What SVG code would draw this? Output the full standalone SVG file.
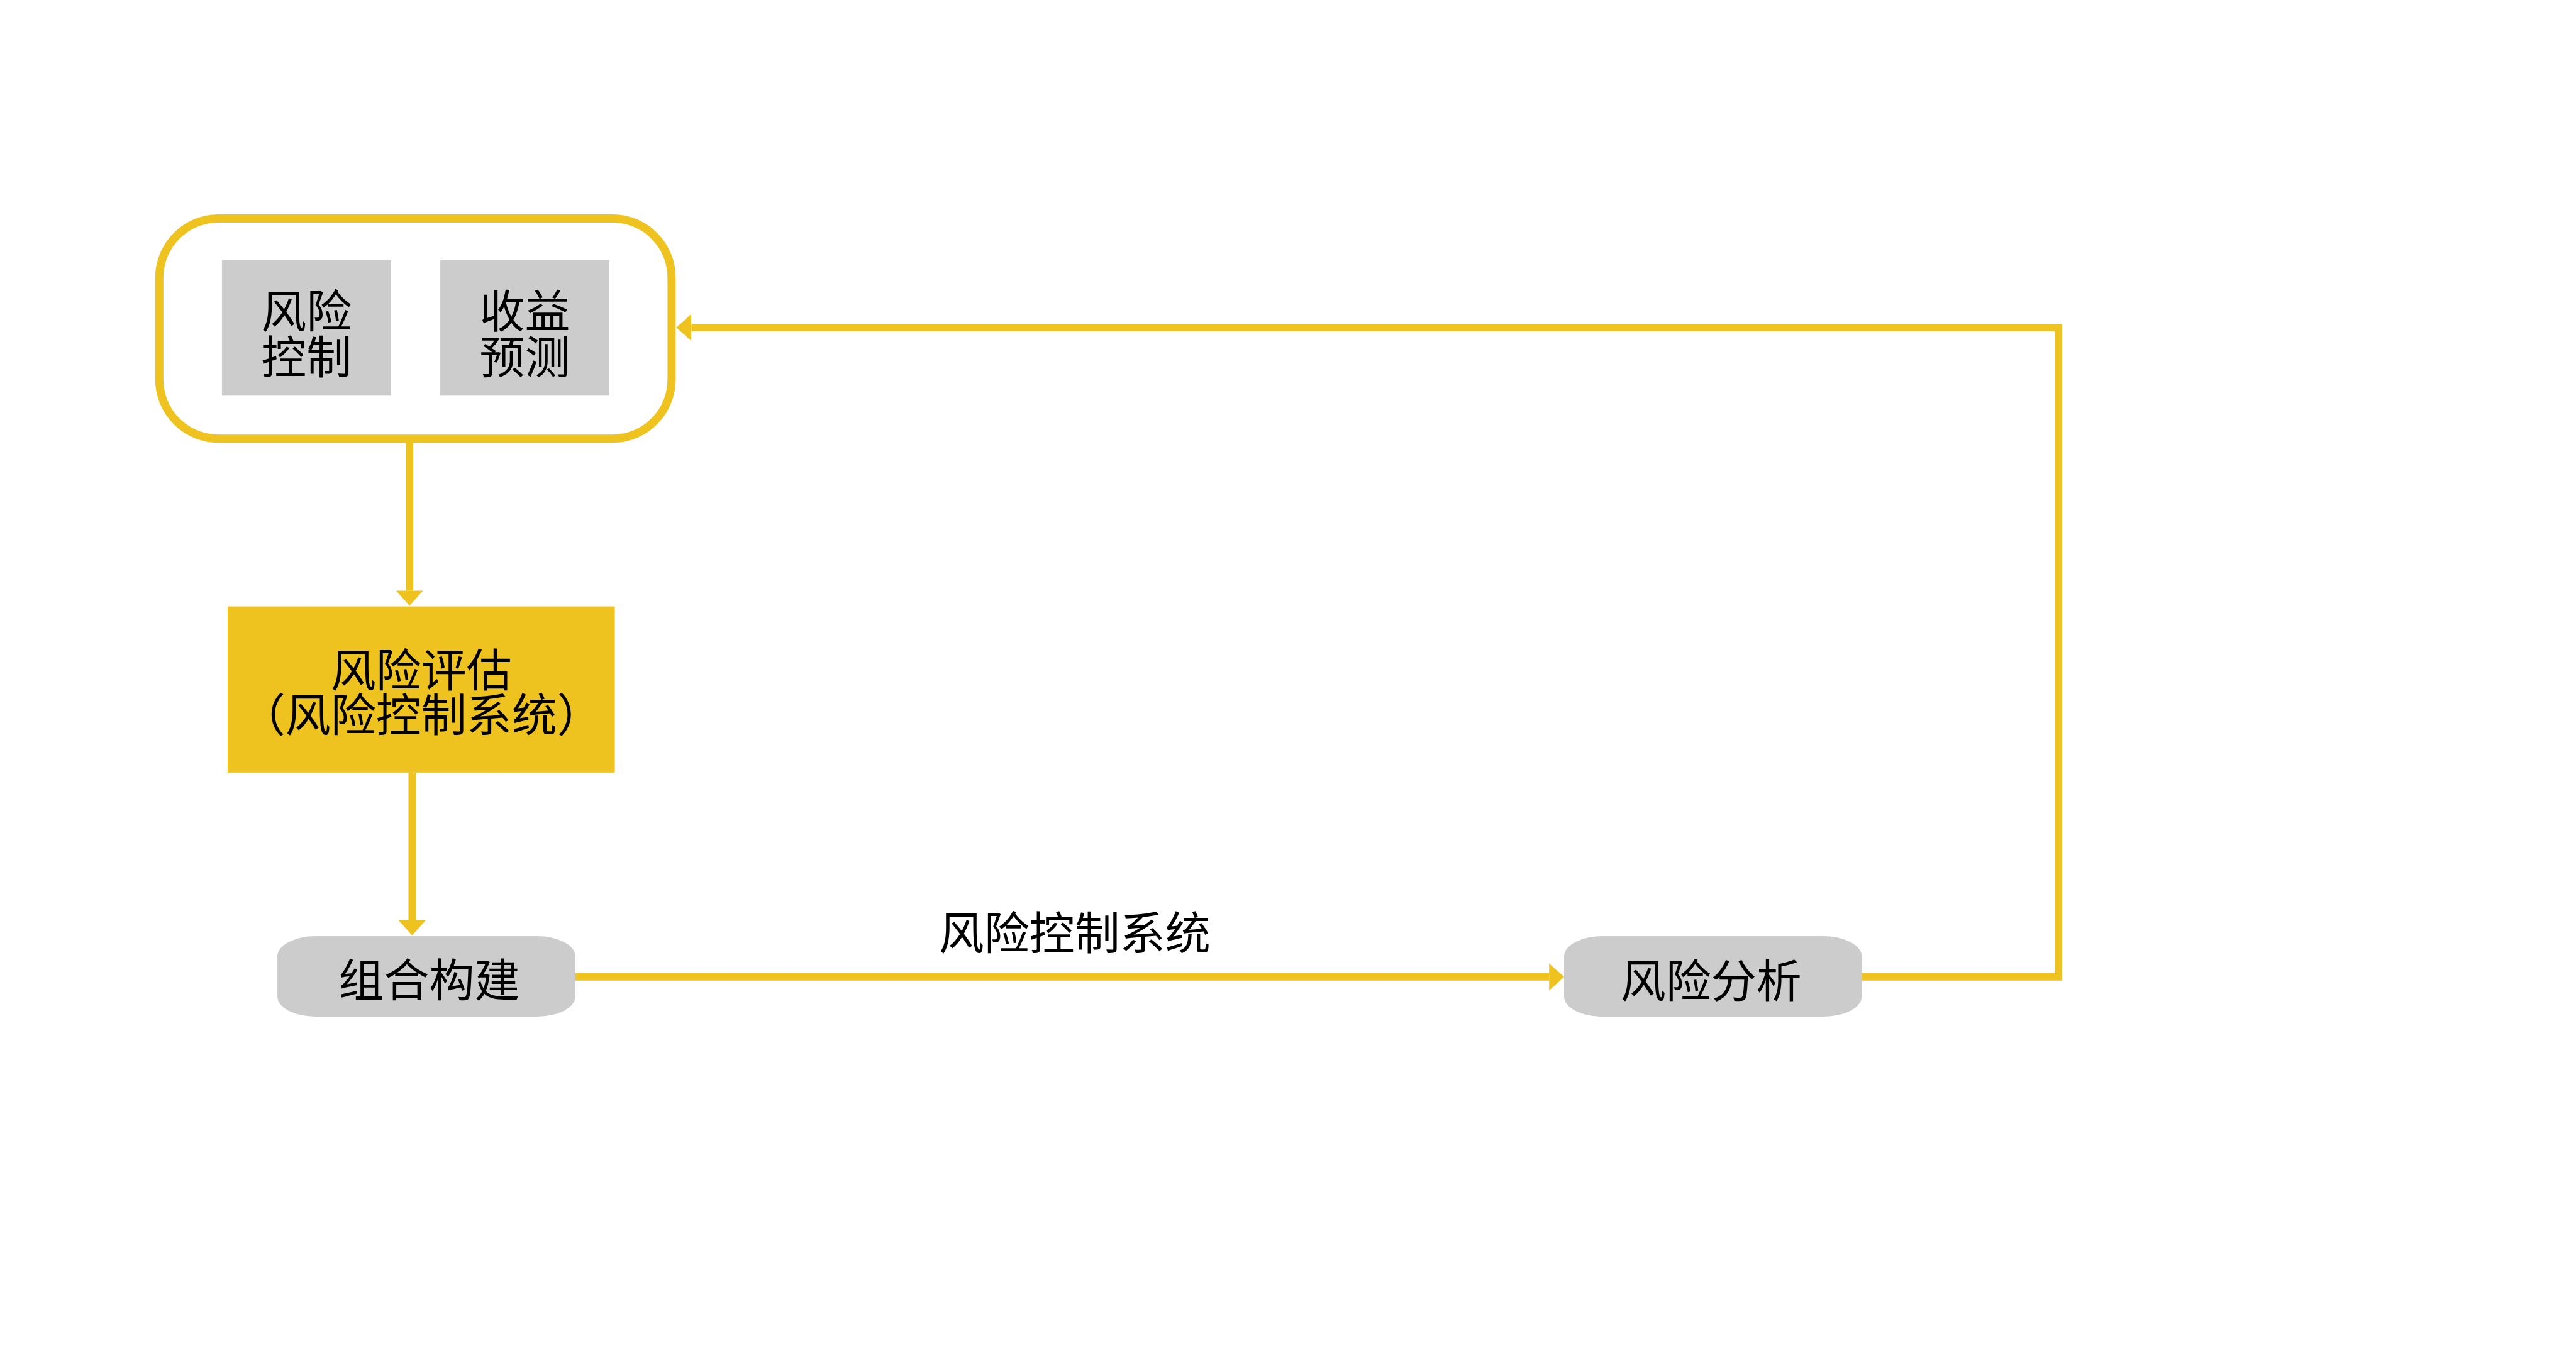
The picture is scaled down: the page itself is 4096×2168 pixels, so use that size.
<svg xmlns="http://www.w3.org/2000/svg" width="4096" height="2168" viewBox="0 0 4096 2168">
<style>
.t{font-family:"Noto Sans CJK SC","Noto Sans",sans-serif;font-size:72px;fill:#000;text-anchor:middle;dominant-baseline:central}
.g{fill:#CCCCCC}
.c{fill:none;stroke:#EEC21F;stroke-width:11.6;stroke-linejoin:miter}
</style>
<defs>
<marker id="ah" markerUnits="userSpaceOnUse" markerWidth="24" markerHeight="43" viewBox="0 0 24 43" refX="0" refY="21.5" orient="auto">
<path d="M0,0 L24,21.5 L0,43 Z" fill="#EEC21F"/>
</marker>
</defs>
<rect width="4096" height="2168" fill="#FFFFFF"/>
<g id="connectors">
<path class="c" d="M651.2,704 L651.2,939.4" marker-end="url(#ah)"/>
<path class="c" d="M655.3,1228.8 L655.3,1463.9" marker-end="url(#ah)"/>
<path class="c" d="M914.7,1553.9 L2463.2,1553.9" marker-end="url(#ah)"/>
<path class="c" d="M2960.2,1553.9 L3273,1553.9 L3273,520.9 L1099.4,520.9" marker-end="url(#ah)"/>
<text class="t" x="1708.8" y="1478.6">风险控制系统</text>
</g>
<g id="group-box">
<rect x="253.3" y="347.5" width="814.6" height="350.2" rx="94" ry="94" fill="#FFFFFF" stroke="#EEC21F" stroke-width="13"/>
</g>
<g id="risk-control">
<rect class="g" x="352.9" y="413.9" width="268.7" height="215.4"/>
<text class="t"><tspan x="487.2" y="488.8">风险</tspan><tspan x="487.2" y="561.8">控制</tspan></text>
</g>
<g id="return-forecast">
<rect class="g" x="700.1" y="413.9" width="268.7" height="215.4"/>
<text class="t"><tspan x="834.5" y="488.8">收益</tspan><tspan x="834.5" y="561.8">预测</tspan></text>
</g>
<g id="risk-assessment">
<rect x="362" y="964.6" width="615.6" height="264.2" fill="#EEC21F"/>
<text class="t"><tspan x="669.8" y="1060">风险评估</tspan><tspan x="669.8" y="1130.8">（风险控制系统）</tspan></text>
</g>
<g id="portfolio">
<rect class="g" x="441.1" y="1489.1" width="473.6" height="127.9" rx="60.7" ry="31.8"/>
<text class="t" x="682.5" y="1553.4">组合构建</text>
</g>
<g id="risk-analysis">
<rect class="g" x="2487" y="1489.1" width="473.3" height="127.9" rx="60.7" ry="31.8"/>
<text class="t" x="2720.8" y="1554.5">风险分析</text>
</g>
</svg>
